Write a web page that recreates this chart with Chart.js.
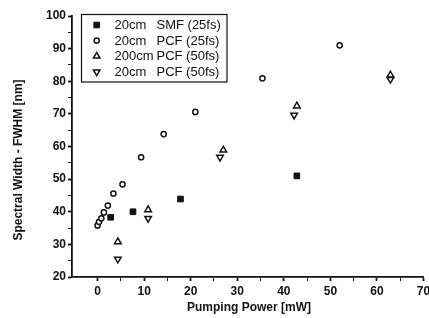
<!DOCTYPE html>
<html>
<head>
<meta charset="utf-8">
<script src="https://cdn.jsdelivr.net/npm/chart.js@4"></script>
<style>
  html, body { margin: 0; padding: 0; background: #fff; overflow: hidden; }
  #wrap { width: 429px; height: 318px; }
</style>
</head>
<body>
<div id="wrap"><canvas id="chart"></canvas></div>
<script>
// series: pumping power [mW] vs spectral width [nm]
const smfX = [2.8, 7.6, 17.8, 42.8];
const smfY = [38.3, 40.0, 43.9, 51.0];

const pcf25X = [0, 0.3, 0.8, 1.35, 2.2, 3.4, 5.35, 9.35, 14.2, 21.0, 35.4, 52.0];
const pcf25Y = [35.8, 36.9, 38.0, 39.8, 41.9, 45.6, 48.4, 56.7, 63.8, 70.6, 80.9, 91.0];

const pcf200X = [4.35, 10.85, 27.0, 42.8, 62.9];
const pcf200Y = [30.8, 40.6, 58.9, 72.4, 81.9];

const pcf20X = [4.35, 10.85, 26.3, 42.2, 62.9];
const pcf20Y = [25.5, 38.0, 56.7, 69.6, 80.6];

// legend text, two columns
const legendLen = ['20cm', '20cm', '200cm', '20cm'];
const legendType = ['SMF (25fs)', 'PCF (25fs)', 'PCF (50fs)', 'PCF (50fs)'];

const xTicks = [0, 10, 20, 30, 40, 50, 60, 70];
const yTicks = [20, 30, 40, 50, 60, 70, 80, 90, 100];
const xTitle = 'Pumping Power [mW]';
const yTitle = 'Spectral Width - FWHM [nm]';

const ink = '#111';
const font = 'Liberation Sans, Arial, sans-serif';

function pts(xs, ys) {
    return xs.map((x, i) => ({ x: x, y: ys[i] }));
}

const datasets = [
    { data: pts(smfX, smfY), pointStyle: 'rect', pointRadius: 4, backgroundColor: ink, borderColor: ink, borderWidth: 1 },
    { data: pts(pcf25X, pcf25Y), pointStyle: 'circle', pointRadius: 2.6, backgroundColor: '#fff', borderColor: ink, borderWidth: 1.5 },
    { data: pts(pcf200X, pcf200Y), pointStyle: 'triangle', pointRadius: 3.8, backgroundColor: 'rgba(255,255,255,0)', borderColor: ink, borderWidth: 1.5 },
    { data: pts(pcf20X, pcf20Y), pointStyle: 'triangle', rotation: 180, pointRadius: 3.8, backgroundColor: 'rgba(255,255,255,0)', borderColor: ink, borderWidth: 1.5 }
];

// minor ticks every 5 units, labels only on the major ones
function withMinor(major) {
    const out = [];
    for (let v = major[0]; v <= major[major.length - 1]; v += 5) out.push({ value: v });
    return out;
}

const overlay = {
    id: 'overlay',
    afterDraw(chart) {
        const c = chart.ctx;
        c.save();
        c.fillStyle = ink;

        // axis titles
        c.font = 'bold 12px ' + font;
        c.textAlign = 'center';
        c.textBaseline = 'middle';
        c.fillText(xTitle, 249, 308);
        c.translate(19, 160);
        c.rotate(-Math.PI / 2);
        c.fillText(yTitle, 0, 0);
        c.setTransform(1, 0, 0, 1, 0, 0);

        // legend box
        c.strokeStyle = ink;
        c.lineWidth = 1.2;
        c.strokeRect(81.5, 14.5, 145.5, 67.5);
        c.font = '13px ' + font;
        c.textAlign = 'left';
        legendLen.forEach((t, i) => {
            const y = 25 + i * 15.6;
            const ds = datasets[i];
            c.lineWidth = ds.borderWidth;
            c.fillStyle = ds.backgroundColor;
            Chart.helpers.drawPoint(c, {
                pointStyle: ds.pointStyle,
                rotation: ds.rotation || 0,
                radius: ds.pointRadius,
                borderWidth: ds.borderWidth
            }, 96.7, y);
            c.fillStyle = ink;
            c.fillText(t, 114.5, y + 0.5);
            c.fillText(legendType[i], 156.5, y + 0.5);
        });
        c.restore();
    }
};

const isMajor = (list) => (ctx) => list.includes(ctx.tick && ctx.tick.value) ? 1.8 : 1;

new Chart(document.getElementById('chart'), {
    type: 'scatter',
    data: { datasets: datasets },
    options: {
        responsive: true,
        maintainAspectRatio: false,
        animation: false,
        layout: { padding: { top: 16, right: 4, left: 0, bottom: 0 } },
        plugins: { legend: { display: false }, tooltip: { enabled: false } },
        scales: {
            x: {
                type: 'linear',
                min: -5.5,
                max: 70,
                afterBuildTicks: (s) => { s.ticks = withMinor(xTicks); },
                afterFit: (s) => { s.height = 41; s.paddingLeft = 0; s.paddingRight = 0; },
                ticks: {
                    color: ink,
                    padding: 3,
                    maxRotation: 0,
                    autoSkip: false,
                    font: { family: font, size: 12, weight: 'bold' },
                    callback: (v) => xTicks.includes(v) ? String(v) : ''
                },
                grid: { drawOnChartArea: false, color: ink, tickLength: 4, tickWidth: isMajor(xTicks) },
                border: { color: ink, width: 1.8 }
            },
            y: {
                type: 'linear',
                min: 20,
                max: 100,
                afterBuildTicks: (s) => { s.ticks = withMinor(yTicks); },
                afterFit: (s) => { s.width = 72; s.paddingTop = 0; s.paddingBottom = 0; },
                ticks: {
                    color: ink,
                    padding: 2,
                    autoSkip: false,
                    font: { family: font, size: 12, weight: 'bold' },
                    callback: (v) => yTicks.includes(v) ? String(v) : ''
                },
                grid: { drawOnChartArea: false, color: ink, tickLength: 4, tickWidth: isMajor(yTicks) },
                border: { color: ink, width: 1.8 }
            }
        }
    },
    plugins: [overlay]
});
</script>
</body>
</html>
